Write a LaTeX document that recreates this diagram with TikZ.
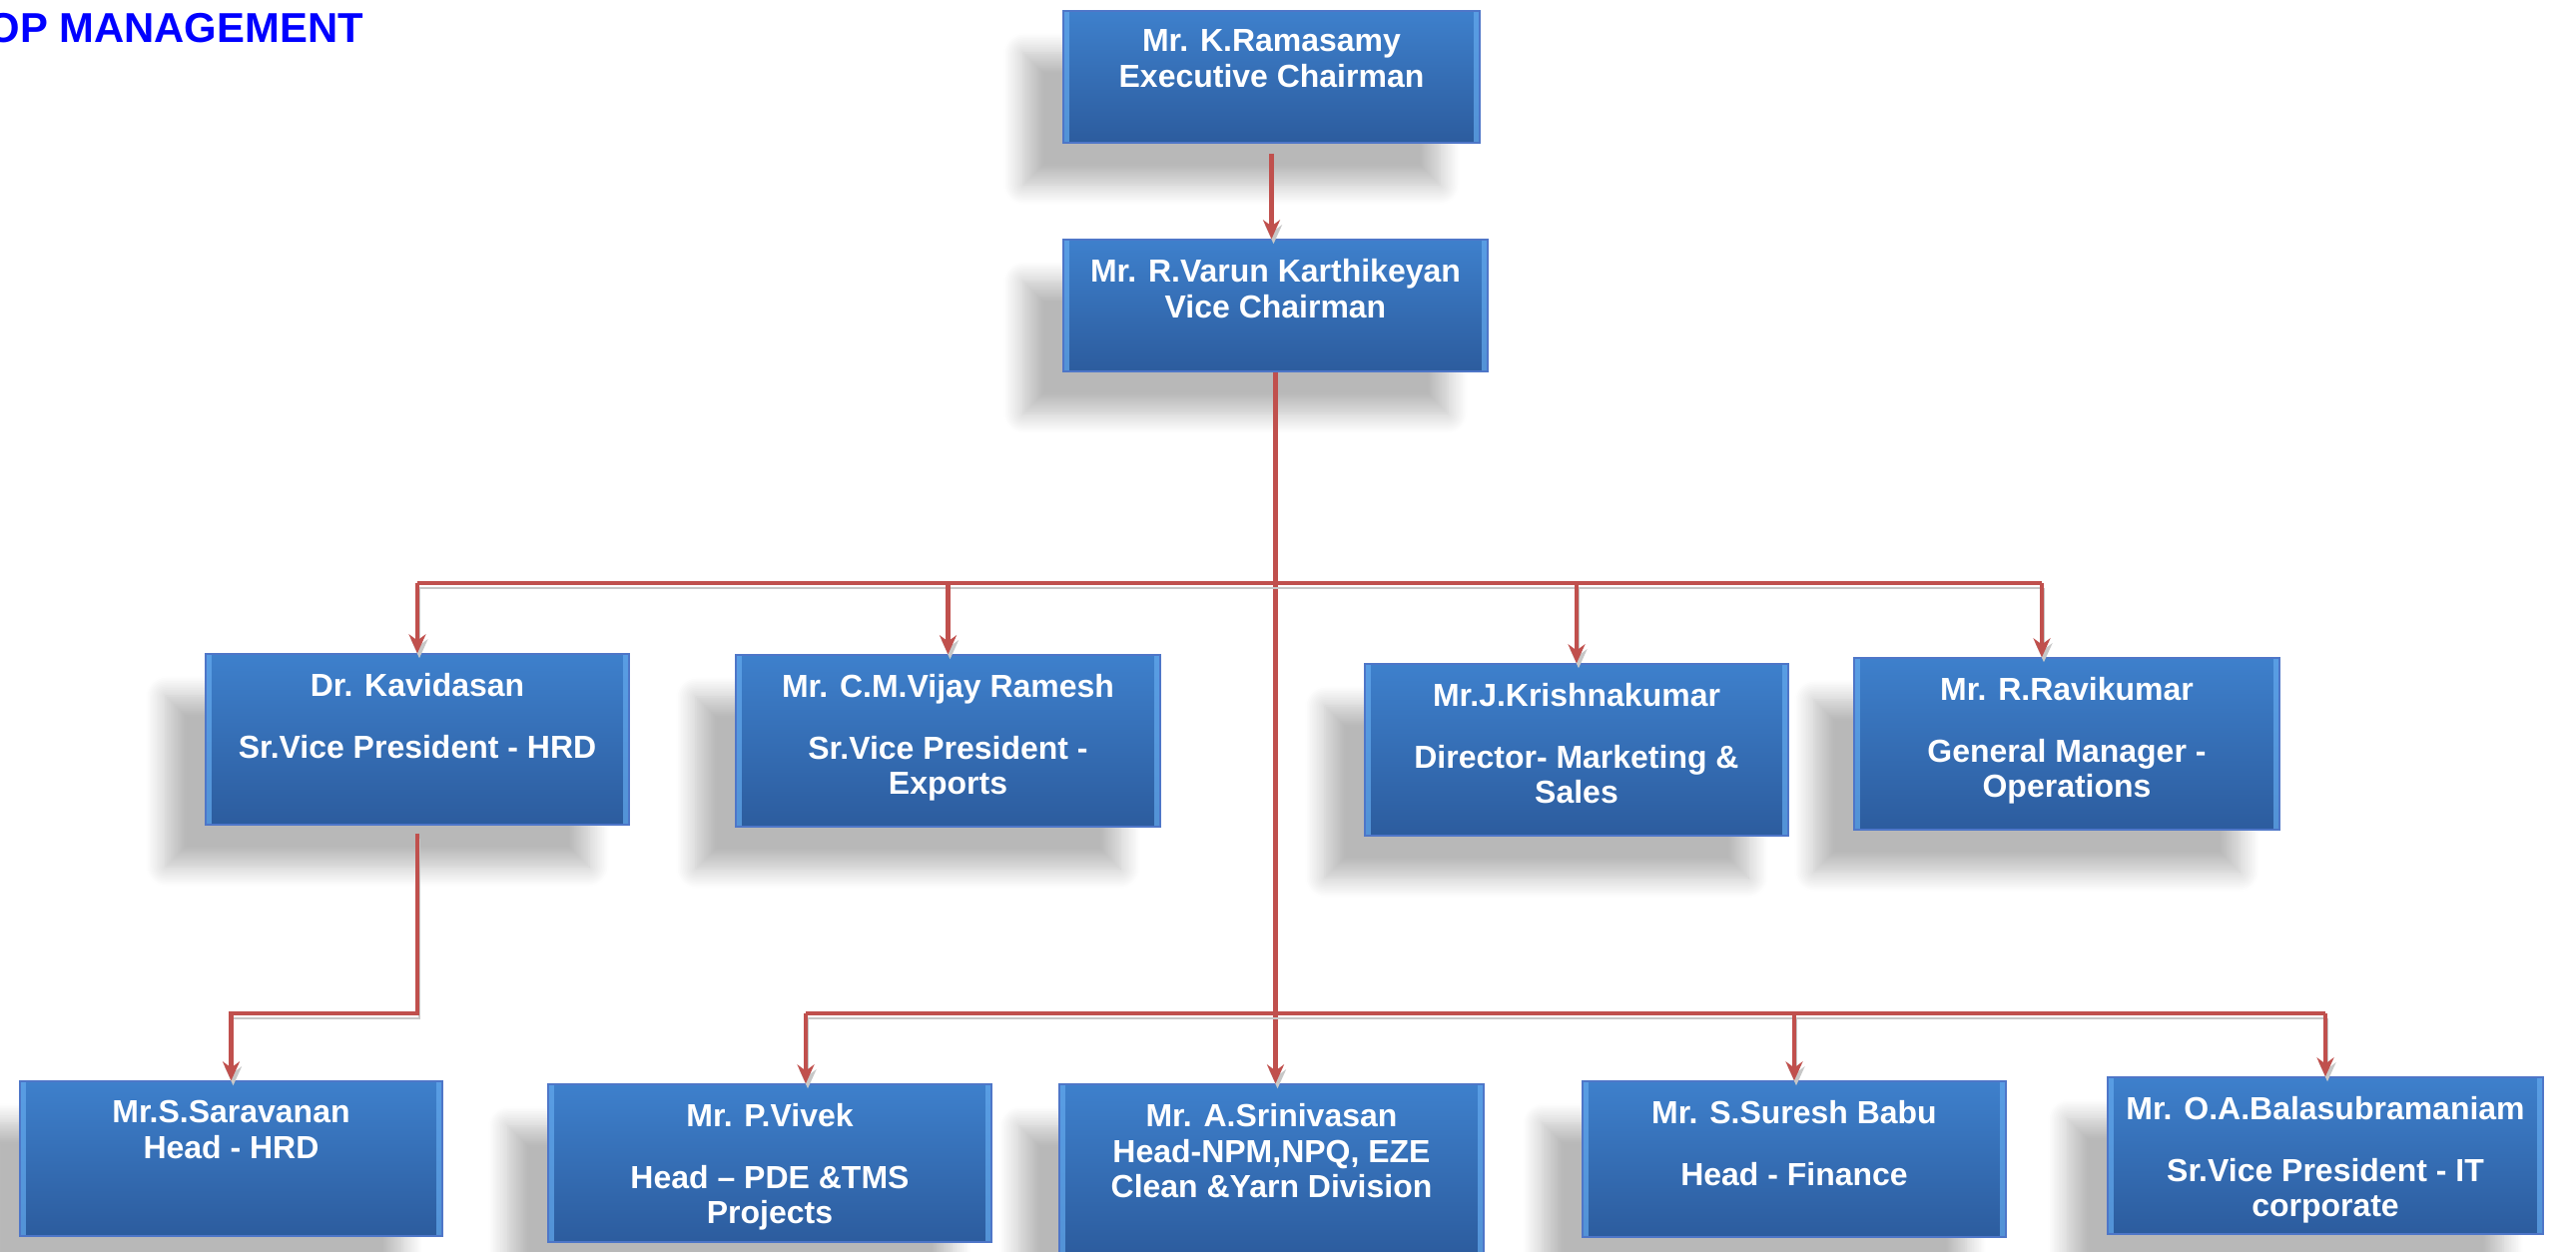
\documentclass[tikz,border=0pt]{standalone}
\usepackage{fontspec}
\setmainfont{Liberation Sans}
\usetikzlibrary{positioning,arrows.meta,shadows.blur}

\definecolor{boxtop}{RGB}{62,128,204}
\definecolor{boxbottom}{RGB}{44,92,158}
\definecolor{boxedge}{RGB}{78,118,200}
\definecolor{boxbevel}{RGB}{100,170,238}
\definecolor{linkred}{RGB}{192,80,77}
\definecolor{titleblue}{RGB}{0,0,255}

\tikzset{
  orgbox/.style={rectangle, draw=boxedge, line width=0.4pt, inner sep=0pt,
    top color=boxtop, bottom color=boxbottom,
    blur shadow={shadow xshift=-0.4cm, shadow yshift=-0.42cm,
      shadow blur radius=0.2cm, shadow blur steps=12, shadow opacity=28},
    path picture={
      \fill[boxbevel, opacity=0.7] (path picture bounding box.south west)
        rectangle ([xshift=0.06cm]path picture bounding box.north west);
      \fill[boxbevel, opacity=0.7] (path picture bounding box.south east)
        rectangle ([xshift=-0.06cm]path picture bounding box.north east);
    }},
  orgtext/.style={text=white, font=\fontsize{9.1pt}{10.2pt}\selectfont\bfseries,
    align=center, inner sep=0pt},
  link/.style={draw=linkred, line width=1.4pt,
    preaction={draw=black!22, transform canvas={xshift=0.02cm, yshift=-0.05cm}}},
  arrow/.style={link, -{Stealth[length=0.19cm, width=0.17cm]}},
}

\begin{document}
\begin{tikzpicture}
    \clip (0,0) rectangle (25.8,-12.54);

    % heading, cut at the left edge
    \node[anchor=base west, text=titleblue, inner sep=0pt,
      font=\fontsize{11.9pt}{14pt}\selectfont\bfseries] (title) at (-0.38,-0.43) {TOP MANAGEMENT};

    % boxes
    \node[orgbox, minimum width=4.17cm, minimum height=1.32cm] (ramasamy) at (12.735,-0.77) {};
    \node[orgbox, minimum width=4.25cm, minimum height=1.32cm] (varun) at (12.775,-3.06) {};

    \node[orgbox, minimum width=4.24cm, minimum height=1.71cm] (kavidasan) at (4.18,-7.405) {};
    \node[orgbox, minimum width=4.25cm, minimum height=1.72cm] (vijay) at (9.495,-7.42) {};
    \node[orgbox, minimum width=4.24cm, minimum height=1.72cm] (krishna) at (15.79,-7.51) {};
    \node[orgbox, minimum width=4.26cm, minimum height=1.72cm] (ravi) at (20.70,-7.45) {};

    \node[orgbox, minimum width=4.23cm, minimum height=1.55cm] (saravanan) at (2.315,-11.605) {};
    \node[orgbox, minimum width=4.44cm, minimum height=1.58cm] (vivek) at (7.71,-11.65) {};
    \node[orgbox, minimum width=4.25cm, minimum height=1.72cm] (srini) at (12.735,-11.72) {};
    \node[orgbox, minimum width=4.24cm, minimum height=1.56cm] (suresh) at (17.97,-11.61) {};
    \node[orgbox, minimum width=4.36cm, minimum height=1.57cm] (bala) at (23.29,-11.575) {};

    % texts, hung from the top of each box
    \node[orgtext, below=0.19cm of ramasamy.north] (ramasamytext) {Mr. K.Ramasamy\\Executive Chairman};
    \node[orgtext, below=0.19cm of varun.north] (varuntext) {Mr. R.Varun Karthikeyan\\Vice Chairman};

    \node[orgtext, below=0.19cm of kavidasan.north] (kavidasantext) {Dr. Kavidasan\\[0.26cm]Sr.Vice President - HRD};
    \node[orgtext, below=0.19cm of vijay.north] (vijaytext) {Mr. C.M.Vijay Ramesh\\[0.26cm]Sr.Vice President -\\Exports};
    \node[orgtext, below=0.19cm of krishna.north] (krishnatext) {Mr.J.Krishnakumar\\[0.26cm]Director- Marketing \&\\Sales};
    \node[orgtext, below=0.19cm of ravi.north] (ravitext) {Mr. R.Ravikumar\\[0.26cm]General Manager -\\Operations};

    \node[orgtext, below=0.19cm of saravanan.north] (saravanantext) {Mr.S.Saravanan\\Head - HRD};
    \node[orgtext, below=0.19cm of vivek.north] (vivektext) {Mr. P.Vivek\\[0.26cm]Head – PDE \&TMS\\Projects};
    \node[orgtext, below=0.19cm of srini.north] (srinitext) {Mr. A.Srinivasan\\Head-NPM,NPQ, EZE\\Clean \&Yarn Division};
    \node[orgtext, below=0.19cm of suresh.north] (sureshtext) {Mr. S.Suresh Babu\\[0.26cm]Head - Finance};
    \node[orgtext, below=0.19cm of bala.north] (balatext) {Mr. O.A.Balasubramaniam\\[0.26cm]Sr.Vice President - IT\\corporate};

    % connectors
    \coordinate (topbar) at (12.77,-5.84);
    \coordinate (botbar) at (12.77,-10.15);
    \coordinate (ravidrop) at ([xshift=-0.25cm]ravi.north);
    \coordinate (vivekdrop) at ([xshift=0.36cm]vivek.north);

    \draw[arrow, shorten <=0.1cm] (ramasamy.south) -- (ramasamy.south |- varun.north);
    \draw[arrow] (varun.south) -- (varun.south |- srini.north);

    \draw[link] (kavidasan.north |- topbar) -- (ravidrop |- topbar);
    \draw[arrow] (kavidasan.north |- topbar) -- (kavidasan.north);
    \draw[arrow] (vijay.north |- topbar) -- (vijay.north);
    \draw[arrow] (krishna.north |- topbar) -- (krishna.north);
    \draw[arrow] (ravidrop |- topbar) -- (ravidrop);

    \draw[link] (vivekdrop |- botbar) -- (bala.north |- botbar);
    \draw[arrow] (vivekdrop |- botbar) -- (vivekdrop);
    \draw[arrow] (suresh.north |- botbar) -- (suresh.north);
    \draw[arrow] (bala.north |- botbar) -- (bala.north);

    \draw[arrow, shorten <=0.08cm] (kavidasan.south) -- (kavidasan.south |- botbar) -| (saravanan.north);
\end{tikzpicture}
\end{document}
